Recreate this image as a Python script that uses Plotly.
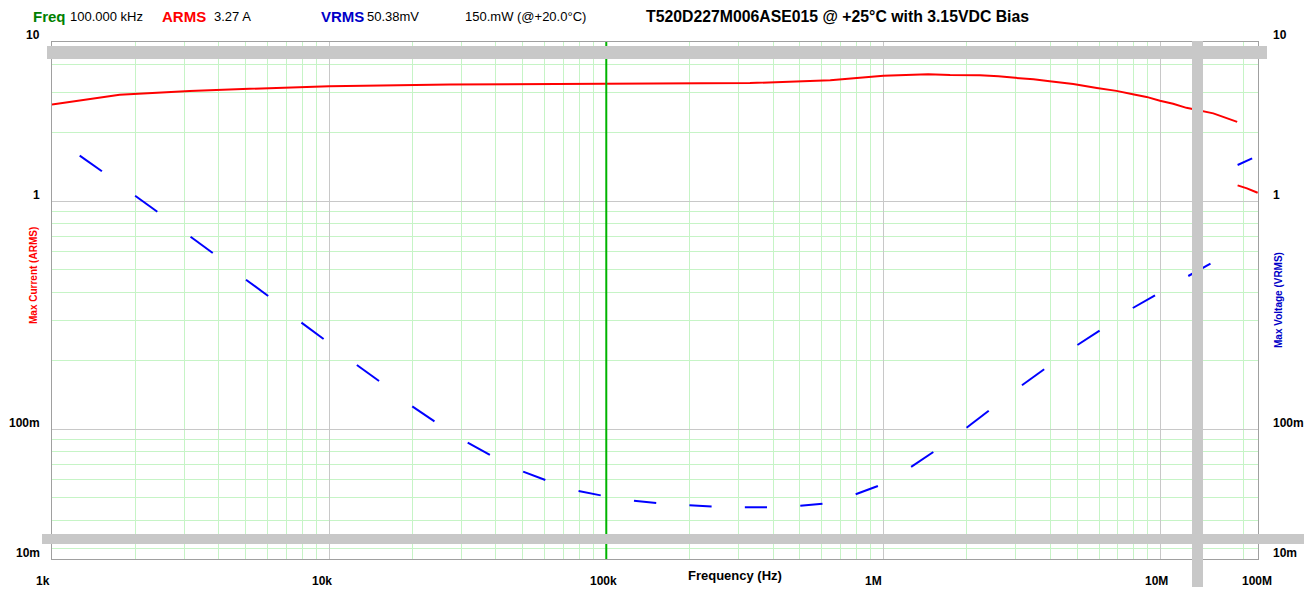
import plotly.graph_objects as go

# ---------------- data ----------------
arms_freq = [1000, 1291, 1754, 3141, 5623, 10000, 27300, 100000, 330000, 643000,
             1000000, 1450000, 1740000, 2230000, 2600000, 2990000, 3480000, 3980000,
             4840000, 5890000, 6930000, 7940000, 8900000, 9950000, 11100000, 12400000,
             14450000, 15500000, 18900000, 18930000, 18970000, 20500000, 22400000]
arms_amps = [2.66, 2.78, 2.93, 3.05, 3.12, 3.20, 3.25, 3.27, 3.30, 3.40,
             3.55, 3.61, 3.58, 3.57, 3.54, 3.48, 3.43, 3.36,
             3.27, 3.14, 3.05, 2.95, 2.87, 2.76, 2.68, 2.57,
             2.47, 2.43, 2.23, None, 1.175, 1.14, 1.09]

vrms_seg_start_freq = [1259, 1995, 3162, 5012, 7943, 12590, 19950, 31620, 50120, 79430,
                       125900, 199500, 316200, 501200, 794300, 1259000, 1995000, 3162000,
                       5012000, 7943000, 12590000, 18970000]
vrms_seg_end_freq = [1514, 2399, 3802, 6026, 9550, 15140, 23990, 38020, 60260, 95500,
                     151400, 239900, 380200, 602600, 955000, 1514000, 2399000, 3802000,
                     6026000, 9550000, 15140000, 21400000]
vrms_seg_start_volts = [1.585, 1.058, 0.699, 0.453, 0.2935, 0.1914, 0.1261, 0.0873, 0.0652, 0.0536,
                        0.0486, 0.0464, 0.0455, 0.0462, 0.0519, 0.0684, 0.1016, 0.156,
                        0.2343, 0.3404, 0.4703, 1.443]
vrms_seg_end_volts = [1.354, 0.900, 0.593, 0.384, 0.249, 0.1629, 0.1084, 0.0772, 0.0599, 0.0513,
                      0.0475, 0.0458, 0.0455, 0.0472, 0.0564, 0.0795, 0.1207, 0.1833,
                      0.2707, 0.387, 0.5324, 1.544]

cursor_freq = 100000
x_tick_labels = ["1k", "10k", "100k", "1M", "10M", "100M"]
y_tick_labels = ["10", "1", "100m", "10m"]

# ---------------- layout helpers ----------------
W, H = 1307, 589
L, R, T, B = 52, 49, 42, 30
PW, PH = W - L - R, H - T - B


def px(x):
    return (x - L) / PW


def py(y):
    return (H - B - y) / PH


FONT = "Liberation Sans, Arial, sans-serif"

# blue segmented curve
bx, by = [], []
for f0, f1, v0, v1 in zip(vrms_seg_start_freq, vrms_seg_end_freq,
                          vrms_seg_start_volts, vrms_seg_end_volts):
    bx += [f0, f1, None]
    by += [v0, v1, None]

fig = go.Figure()
fig.add_trace(go.Scatter(x=arms_freq, y=arms_amps, mode="lines",
                         line=dict(color="#ff0000", width=2), connectgaps=False,
                         hoverinfo="skip", showlegend=False))
fig.add_trace(go.Scatter(x=bx, y=by, mode="lines",
                         line=dict(color="#0000ff", width=2), connectgaps=False,
                         hoverinfo="skip", showlegend=False))

GRID_MAJOR = "#c8c8c8"
GRID_MINOR = "#c6f4c6"
AXLINE = "#a0a0a0"

fig.update_layout(
    width=W, height=H,
    margin=dict(l=L, r=R, t=T, b=B, pad=0),
    paper_bgcolor="white", plot_bgcolor="white",
    showlegend=False,
    xaxis=dict(type="log", range=[3, 7.3516], dtick=1, tick0=0,
               showticklabels=False, ticks="",
               showgrid=True, gridcolor=GRID_MAJOR, gridwidth=1,
               minor=dict(dtick="D1", showgrid=True, gridcolor=GRID_MINOR, gridwidth=1, ticks=""),
               showline=True, linecolor=AXLINE, linewidth=1, mirror=True, zeroline=False),
    yaxis=dict(type="log", range=[-1.5689, 0.6987], dtick=1, tick0=0,
               showticklabels=False, ticks="",
               showgrid=True, gridcolor=GRID_MAJOR, gridwidth=1,
               minor=dict(dtick="D1", showgrid=True, gridcolor=GRID_MINOR, gridwidth=1, ticks=""),
               showline=True, linecolor=AXLINE, linewidth=1, mirror=True, zeroline=False),
)

shapes = []
# green frequency cursor
shapes.append(dict(type="line", xref="x", yref="paper", x0=cursor_freq, x1=cursor_freq,
                   y0=0, y1=1, line=dict(color="#00b400", width=2), layer="above"))
# grey marker bars
GREY = "#c8c8c8"
shapes.append(dict(type="rect", xref="paper", yref="paper", x0=px(47), x1=px(1267),
                   y0=py(59), y1=py(46), fillcolor=GREY, line=dict(width=0), layer="above"))
shapes.append(dict(type="rect", xref="paper", yref="paper", x0=px(42), x1=px(1304),
                   y0=py(544), y1=py(534), fillcolor=GREY, line=dict(width=0), layer="above"))
shapes.append(dict(type="rect", xref="paper", yref="paper", x0=px(1192), x1=px(1203),
                   y0=py(587), y1=py(41), fillcolor=GREY, line=dict(width=0), layer="above"))
fig.update_layout(shapes=shapes)

ann = []


def text(s, x, y, size, color="black", bold=False, xanchor="left", angle=0):
    ann.append(dict(text=("<b>%s</b>" % s) if bold else s, xref="paper", yref="paper",
                    x=px(x), y=py(y), xanchor=xanchor, yanchor="middle", showarrow=False,
                    textangle=angle, font=dict(family=FONT, size=size, color=color)))


# header
text("Freq", 31, 17, 15, "#008000", True)
text("100.000 kHz", 68, 17, 13)
text("ARMS", 160, 17, 15, "#ff0000", True)
text("3.27 A", 212, 17, 13)
text("VRMS", 319, 17, 15, "#0000c8", True)
text("50.38mV", 365, 17, 13)
text("150.mW (@+20.0°C)", 463, 17, 13)
text("T520D227M006ASE015 @ +25°C with 3.15VDC Bias", 644, 17, 15.8, "black", True)

# y tick labels (left / right)
y_label_pos = [34.5, 194.5, 423, 553]
for lab, yy in zip(y_tick_labels, y_label_pos):
    text(lab, 42, yy, 12, "black", True, xanchor="right")
    text(lab, 1271, yy, 12, "black", True, xanchor="left")

# x tick labels
x_label_pos = [43, 321.5, 603.7, 873, 1156, 1257]
for lab, xx in zip(x_tick_labels, x_label_pos):
    text(lab, xx, 580.5, 12, "black", True, xanchor="center")

text("Frequency (Hz)", 735, 575, 13, "black", True, xanchor="center")

# axis titles
text("Max Current (ARMS)", 33, 276, 10, "#ff0000", True, xanchor="center", angle=-90)
text("Max Voltage (VRMS)", 1278, 300, 10, "#0000c8", True, xanchor="center", angle=-90)

fig.update_layout(annotations=ann)

fig.write_html("out.html", config={"displayModeBar": False},
               post_script="document.body.style.margin='0';document.body.style.overflow='hidden';")
